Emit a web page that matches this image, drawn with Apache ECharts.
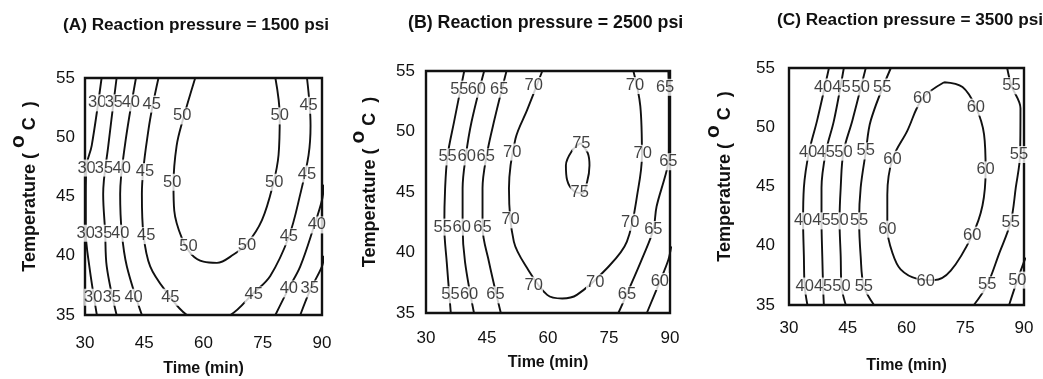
<!DOCTYPE html>
<html>
<head>
<meta charset="utf-8">
<script src="https://cdn.jsdelivr.net/npm/echarts@6/dist/echarts.min.js"></script>
<style>
  html, body { margin: 0; padding: 0; background: #fff; }
  #chart { width: 1043px; height: 379px; }
</style>
</head>
<body>
<div id="chart"></div>
<script>
var timeTicks = [30, 45, 60, 75, 90];
var tempTicks = [35, 40, 45, 50, 55];
var panelTitles = ['(A) Reaction pressure = 1500 psi', '(B) Reaction pressure = 2500 psi', '(C) Reaction pressure = 3500 psi'];

// contour lines, [time, temperature]
// (A) 1500 psi
var a30 = [[34.2,55],[31.7,49.3],[30.4,47.6],[30.2,45.2],[30.2,42.0],[31.1,39.1],[33.0,35]];
var a35 = [[38.0,55],[35.9,49.3],[34.6,45.2],[35.1,42.0],[35.5,39.1],[38.0,35]];
var a40 = [[42.9,55],[40.1,49.3],[38.9,45.2],[39.3,42.0],[40.6,39.1],[44.4,35]];
var a45 = [[48.6,55],[46.1,50.7],[44.4,45.2],[44.8,41.8],[46.5,39.1],[50.7,36.9],[55.8,35],[61,34.6],[66.8,35],[72.5,36.8],[76.9,38.3],[81.6,41.6],[84.5,45.2],[86.6,48.5],[87.1,51],[86.2,55]];
var a50 = [[57.9,55],[54.8,51.5],[53.2,49.3],[52.4,46],[52.6,43.8],[54.5,41.5],[57,40.1],[60,39.5],[63.4,39.4],[67.6,40.1],[71,41],[74.8,43],[77.6,46],[79,48.5],[79.3,51.8],[78.2,55]];
var a40r = [[78.2,35],[81.5,37.2],[84.5,39.1],[87.9,42.4],[90,44.7],[90.5,46]];
var a35r = [[84.5,35],[87,37.1],[90,39.1],[90.5,40]];
var labelsA = [
  [33.1,52.9,'30'],[37.3,52.9,'35'],[41.6,52.9,'40'],[46.9,52.8,'45'],[54.6,51.8,'50'],[79.3,51.8,'50'],[86.6,52.7,'45'],
  [30.4,47.4,'30'],[34.8,47.4,'35'],[39.3,47.4,'40'],[45.2,47.1,'45'],[52.1,46.2,'50'],[77.9,46.2,'50'],[86.2,46.9,'45'],
  [30.2,41.9,'30'],[34.6,41.9,'35'],[38.9,41.9,'40'],[45.5,41.7,'45'],[56.2,40.8,'50'],[71,40.9,'50'],[81.6,41.6,'45'],[88.7,42.6,'40'],
  [32.1,36.5,'30'],[36.8,36.5,'35'],[42.3,36.5,'40'],[51.6,36.5,'45'],[72.7,36.7,'45'],[81.6,37.2,'40'],[86.9,37.2,'35']
];

// (B) 2500 psi
var b55 = [[39.4,55],[36.9,50.8],[35.3,48],[34.7,45.3],[34.5,42.1],[35.1,39.2],[36.1,35]];
var b60 = [[44.3,55],[41.2,50.8],[39.8,48],[39.0,45.3],[39.0,42.1],[39.6,39.2],[41.8,35]];
var b65 = [[49.8,55],[46.7,50.8],[44.9,48],[43.9,45.3],[43.9,42.1],[45.5,39.2],[48.4,35]];
var b70 = [[58.6,55],[54.9,51.8],[52.0,49.4],[50.4,45.3],[51.6,40.9],[54.9,38.7],[59.8,36.5],[63.5,36.2],[67.1,36.5],[74.5,38.7],[79.4,40.9],[82.2,45.3],[83.1,48.0],[82.7,52.1],[81.0,55]];
var b75 = [[68.0,49.05],[65.9,48.4],[64.4,47.2],[64.7,46.0],[66.3,45.1],[68.4,44.9],[69.6,45.8],[70.2,47.2],[69.8,48.2],[68.0,49.05]];
var b65r = [[89.6,55],[89.7,52.6],[89.7,48.7],[89.6,47.5],[88.8,46.3],[86.7,43.8],[85.9,41.9],[83.4,39.7],[79.3,36.5],[77.3,35]];
var b60r = [[84.3,35],[87.5,37.6],[89.6,39.4],[90.3,40.5]];
var labelsB = [
  [38.2,53.5,'55'],[42.5,53.5,'60'],[48.0,53.5,'65'],[56.5,53.8,'70'],[81.4,53.8,'70'],[88.8,53.65,'65'],
  [35.3,47.9,'55'],[40.0,47.9,'60'],[44.7,47.9,'65'],[51.2,48.3,'70'],[68.2,49.05,'75'],[83.3,48.2,'70'],[89.6,47.5,'65'],
  [67.8,45.0,'75'],
  [34.1,42.1,'55'],[38.8,42.1,'60'],[43.9,42.1,'65'],[50.8,42.7,'70'],[80.2,42.5,'70'],[85.9,41.9,'65'],
  [36.0,36.5,'55'],[40.6,36.5,'60'],[47.1,36.5,'65'],[56.5,37.3,'70'],[71.6,37.5,'70'],[79.4,36.5,'65'],[87.5,37.6,'60']
];

// (C) 3500 psi
var c40 = [[40.2,55],[37.2,50.6],[35.1,47.9],[33.8,44.9],[33.6,42.1],[33.8,39.1],[34.0,36.6],[34.7,35]];
var c45 = [[44.0,55],[41.5,50.6],[39.4,47.9],[38.3,44.9],[38.3,42.1],[38.5,39.1],[38.7,36.6],[38.9,35]];
var c50 = [[49.6,55],[46.2,50.6],[43.9,47.9],[43.2,44.9],[42.9,42.1],[43.2,39.1],[43.4,36.6],[44.5,35]];
var c55 = [[56.0,55],[50.9,50.6],[49.6,47.9],[48.3,44.9],[47.9,42.1],[48.3,39.1],[49.1,36.6],[51.7,35]];
var c60 = [[69.6,53.8],[74.3,53.4],[77.7,51.7],[79.8,49.4],[80.2,46.4],[79.4,43.4],[76.8,40.9],[71.3,37.9],[67.0,37.1],[62.8,37.2],[58.5,38.0],[56.4,39.4],[55.1,41.4],[55.1,44.3],[56.4,47.3],[60.2,49.7],[64.0,52.4],[69.6,53.8]];
var c55r = [[85.7,55],[86.8,53.5],[89.1,51.6],[89.0,47.7],[87.9,44.9],[86.6,42.0],[83.6,39.3],[80.6,36.7],[77.2,35]];
var c50r = [[86.2,35],[88.3,37.1],[90.4,39]];
var labelsC = [
  [38.7,53.4,'40'],[43.4,53.4,'45'],[48.3,53.4,'50'],[53.8,53.4,'55'],[64.0,52.4,'60'],[77.7,51.7,'60'],[86.8,53.5,'55'],
  [34.9,47.9,'40'],[39.4,47.9,'45'],[43.9,47.9,'50'],[49.6,48.0,'55'],[56.4,47.3,'60'],[80.2,46.4,'60'],[88.7,47.7,'55'],
  [33.6,42.1,'40'],[38.3,42.1,'45'],[42.9,42.1,'50'],[47.9,42.1,'55'],[55.1,41.4,'60'],[76.8,40.9,'60'],[86.6,42.0,'55'],
  [34.0,36.6,'40'],[38.7,36.6,'45'],[43.4,36.6,'50'],[49.1,36.6,'55'],[64.9,37.0,'60'],[80.6,36.7,'55'],[88.3,37.1,'50']
];

var contours = [
  [a30, a35, a40, a45, a50, a40r, a35r],
  [b55, b60, b65, b70, b75, b65r, b60r],
  [c40, c45, c50, c55, c60, c55r, c50r]
];
var contourLabels = [labelsA, labelsB, labelsC];

var font = '"Liberation Sans", Arial, sans-serif';
var ink = '#111';

// layout per panel
var grids = [
  {left: 85, top: 78, width: 237, height: 237},
  {left: 426, top: 71, width: 244, height: 242},
  {left: 789, top: 68, width: 235, height: 237}
];
var titlePos = [{left: 63, top: 17, size: 17.2}, {left: 408, top: 14, size: 17.8}, {left: 777, top: 12, size: 17.2}];
var xNameGap = [46, 42, 53];
var yNameGap = [33, 30, 42];
var xLabelMargin = [20, 17, 15];
var yLabelMargin = [10, 11, 14];

var series = [];
contours.forEach(function (lines, gi) {
  lines.forEach(function (pts) {
    series.push({
      type: 'line', xAxisIndex: gi, yAxisIndex: gi, data: pts,
      smooth: 0.35, symbol: 'none', silent: true, z: 2,
      lineStyle: {color: ink, width: 1.9}
    });
  });
  series.push({
    type: 'scatter', xAxisIndex: gi, yAxisIndex: gi, data: contourLabels[gi],
    symbolSize: 1, silent: true, z: 5,
    itemStyle: {color: 'rgba(0,0,0,0)'},
    label: {
      show: true, position: 'inside', formatter: function (p) { return p.value[2]; },
      color: ink, fontSize: 16.5, fontFamily: font, backgroundColor: '#fff', padding: [0, 0]
    }
  });
});

var option = {
  animation: false,
  backgroundColor: '#fff',
  title: panelTitles.map(function (t, i) {
    return {
      text: t, left: titlePos[i].left, top: titlePos[i].top, padding: 0,
      textStyle: {fontFamily: font, fontWeight: 'bold', fontSize: titlePos[i].size, color: ink}
    };
  }),
  grid: grids.map(function (g) {
    return {left: g.left, top: g.top, width: g.width, height: g.height, outerBoundsMode: 'none',
      show: true, borderColor: ink, borderWidth: 2.4, backgroundColor: 'transparent'};
  }),
  xAxis: grids.map(function (g, i) {
    return {
      gridIndex: i, type: 'value', min: timeTicks[0], max: timeTicks[timeTicks.length - 1], interval: 15,
      axisLine: {show: false}, axisTick: {show: false}, splitLine: {show: false},
      axisLabel: {fontSize: 17, color: ink, fontFamily: font, margin: xLabelMargin[i]},
      name: 'Time (min)', nameLocation: 'middle', nameGap: xNameGap[i],
      nameTextStyle: {fontFamily: font, fontWeight: 'bold', fontSize: 16, color: ink}
    };
  }),
  yAxis: grids.map(function (g, i) {
    return {
      gridIndex: i, type: 'value', min: tempTicks[0], max: tempTicks[tempTicks.length - 1], interval: 5,
      axisLine: {show: false}, axisTick: {show: false}, splitLine: {show: false},
      axisLabel: {fontSize: 17, color: ink, fontFamily: font, margin: yLabelMargin[i]},
      name: 'Temperature ( {sup|o} C  )', nameLocation: 'middle', nameGap: yNameGap[i],
      nameTextStyle: {
        fontFamily: font, fontWeight: 'bold', fontSize: 18, color: ink, lineHeight: 44, padding: [0, 0, 0, 20],
        rich: {sup: {fontFamily: font, fontWeight: 'bold', fontSize: 21, color: ink, verticalAlign: 'top', lineHeight: 12}}
      }
    };
  }),
  series: series
};

var myChart = echarts.init(document.getElementById('chart'));
myChart.setOption(option);
</script>
</body>
</html>
